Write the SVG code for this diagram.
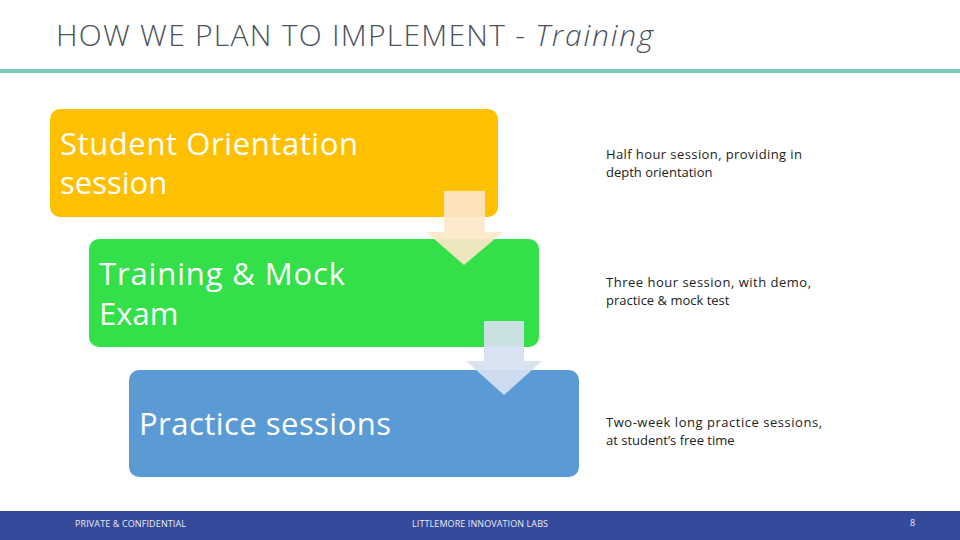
<svg xmlns="http://www.w3.org/2000/svg" width="960" height="540" viewBox="0 0 960 540">
<style>
.title{font-family:"Open Sans","Liberation Sans",sans-serif;font-weight:300;font-size:30px;fill:#4a5260}
.box{font-family:"Open Sans","Liberation Sans",sans-serif;font-size:31px;fill:#ffffff}
.desc{font-family:"Open Sans","Liberation Sans",sans-serif;font-size:13px;fill:#222222}
.foot{font-family:"Open Sans","Liberation Sans",sans-serif;font-size:9px;fill:#e8ecf6}
</style>
<rect width="960" height="540" fill="#ffffff"/>
<text class="title" x="56" y="46"><tspan textLength="478">HOW WE PLAN TO IMPLEMENT - </tspan><tspan font-style="italic" textLength="118">Training</tspan></text>
<rect x="0" y="69" width="960" height="4" fill="#76cdb8"/>
<g id="node-orientation">
<rect x="50" y="109" width="448" height="108" rx="10" fill="#ffc000"/>
<text class="box" x="60" y="155" textLength="298">Student Orientation</text>
<text class="box" x="60" y="194">session</text>
</g>
<g id="node-training">
<rect x="89" y="239" width="450" height="108" rx="10" fill="#33e04a"/>
<text class="box" x="99" y="285" textLength="246">Training &amp; Mock</text>
<text class="box" x="99" y="325">Exam</text>
</g>
<g id="node-practice">
<rect x="129" y="370" width="450" height="107" rx="10" fill="#5b9bd5"/>
<text class="box" x="139" y="435" textLength="252">Practice sessions</text>
</g>
<g id="connectors">
<path d="M444,191 H485 V232 H503 L464,265 L426,232 H444 Z" fill="#fde7c8" fill-opacity="0.92"/>
<path d="M484,321 H524 V361 H542 L504,395 L466,361 H484 Z" fill="#d6e1f0" fill-opacity="0.92"/>
</g>
<g id="descriptions">
<text class="desc" x="606" y="159" textLength="196">Half hour session, providing in</text>
<text class="desc" x="606" y="177">depth orientation</text>
<text class="desc" x="606" y="287" textLength="205">Three hour session, with demo,</text>
<text class="desc" x="606" y="305">practice &amp; mock test</text>
<text class="desc" x="606" y="427" textLength="216">Two-week long practice sessions,</text>
<text class="desc" x="606" y="445">at student’s free time</text>
</g>
<g id="footer">
<rect x="0" y="511" width="960" height="29" fill="#354a9a"/>
<text class="foot" x="75" y="527" textLength="111">PRIVATE &amp; CONFIDENTIAL</text>
<text class="foot" x="412" y="527" textLength="136">LITTLEMORE INNOVATION LABS</text>
<text class="foot" x="910" y="526">8</text>
</g>
</svg>
